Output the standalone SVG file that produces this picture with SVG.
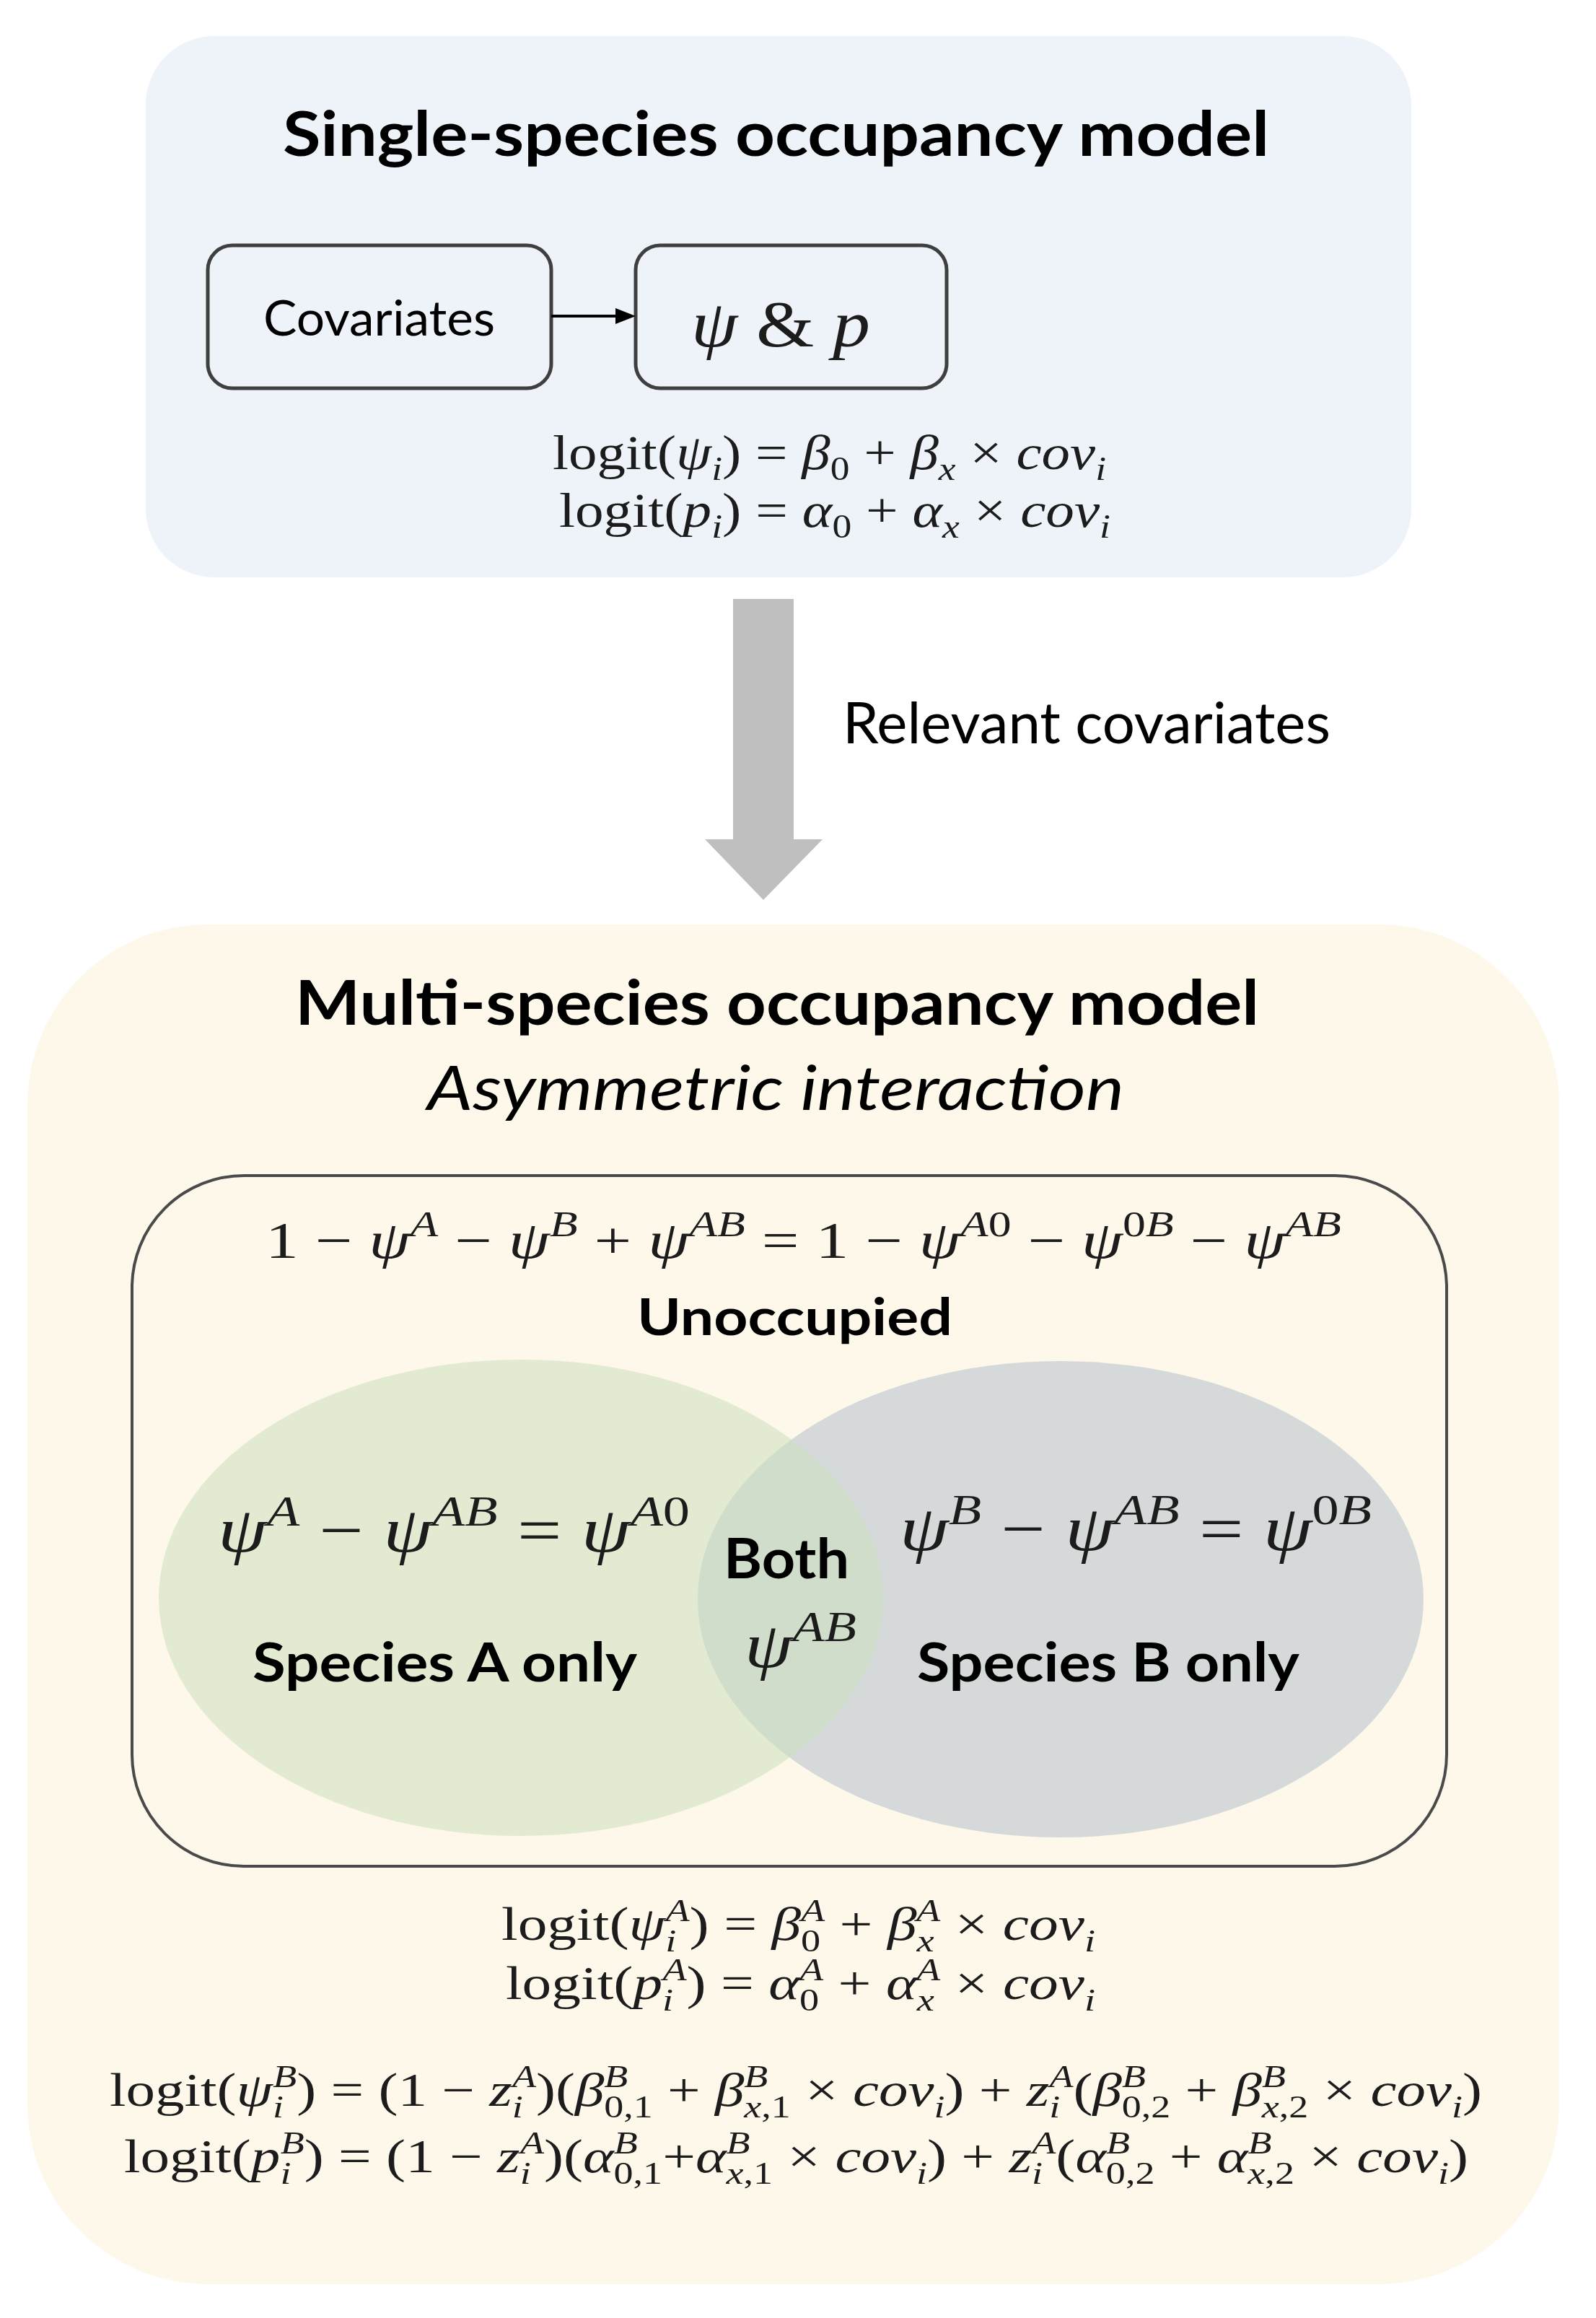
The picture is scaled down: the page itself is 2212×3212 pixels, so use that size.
<svg xmlns="http://www.w3.org/2000/svg" width="2212" height="3212" viewBox="0 0 2212 3212">
<style>
.sans{font-family:Lato,"Open Sans","Liberation Sans",sans-serif;fill:#000}
.b{font-weight:700}
.m{font-family:"Liberation Serif","DejaVu Serif",serif;fill:#1c1c1c}
.i{font-style:italic}
.box{fill:none;stroke:#3f3f3f;stroke-width:5}
</style>
<defs>
<marker id="ah" markerUnits="userSpaceOnUse" markerWidth="28" markerHeight="22" refX="17" refY="11" orient="auto"><path d="M0,0 L28,11 L0,22 z" fill="#000"/></marker>
</defs>
<rect width="2212" height="3212" fill="#fff"/>

<g id="single-species-panel">
<rect x="202" y="50" width="1754" height="750" rx="95" fill="#eef3f9"/>
<text class="sans b" x="392" y="216" font-size="86" textLength="1367" lengthAdjust="spacingAndGlyphs">Single-species occupancy model</text>
<text class="m" x="766" y="650" font-size="68" textLength="767" lengthAdjust="spacingAndGlyphs">logit(<tspan class="i">ψ</tspan><tspan class="i" font-size="46" dy="15">i</tspan><tspan dy="-15">) = </tspan><tspan class="i">β</tspan><tspan font-size="46" dy="15">0</tspan><tspan dy="-15"> + </tspan><tspan class="i">β</tspan><tspan class="i" font-size="46" dy="15">x</tspan><tspan dy="-15"> × </tspan><tspan class="i">cov</tspan><tspan class="i" font-size="46" dy="15">i</tspan></text>
<text class="m" x="775" y="730" font-size="68" textLength="764" lengthAdjust="spacingAndGlyphs">logit(<tspan class="i">p</tspan><tspan class="i" font-size="46" dy="15">i</tspan><tspan dy="-15">) = </tspan><tspan class="i">α</tspan><tspan font-size="46" dy="15">0</tspan><tspan dy="-15"> + </tspan><tspan class="i">α</tspan><tspan class="i" font-size="46" dy="15">x</tspan><tspan dy="-15"> × </tspan><tspan class="i">cov</tspan><tspan class="i" font-size="46" dy="15">i</tspan></text>
</g>

<g id="covariates-node">
<rect class="box" x="288" y="340" width="476" height="198" rx="34"/>
<text class="sans" x="365" y="465" font-size="67" textLength="321" lengthAdjust="spacingAndGlyphs">Covariates</text>
</g>

<g id="psi-p-node">
<rect class="box" x="881" y="340" width="431" height="198" rx="34"/>
<text class="m" x="958" y="480" font-size="92" textLength="248" lengthAdjust="spacingAndGlyphs"><tspan class="i">ψ</tspan> &amp; <tspan class="i">p</tspan></text>
</g>

<g id="multi-species-panel">
<rect x="38" y="1281" width="2123" height="1884" rx="250" fill="#fdf8e9"/>
<text class="sans b" x="409" y="1420" font-size="86" textLength="1336" lengthAdjust="spacingAndGlyphs">Multi-species occupancy model</text>
<text class="sans i" x="592" y="1538" font-size="85" textLength="966" lengthAdjust="spacingAndGlyphs">Asymmetric interaction</text>
<text class="m" x="695" y="2688" font-size="66" textLength="823" lengthAdjust="spacingAndGlyphs">logit(<tspan class="i">ψ</tspan><tspan class="i" font-size="44" dy="16">i</tspan><tspan class="i" font-size="44" dx="-12" dy="-42">A</tspan><tspan dy="26">) = </tspan><tspan class="i">β</tspan><tspan font-size="44" dy="16">0</tspan><tspan class="i" font-size="44" dx="-22" dy="-42">A</tspan><tspan dy="26"> + </tspan><tspan class="i">β</tspan><tspan class="i" font-size="44" dy="16">x</tspan><tspan class="i" font-size="44" dx="-20" dy="-42">A</tspan><tspan dy="26"> × </tspan><tspan class="i">cov</tspan><tspan class="i" font-size="44" dy="16">i</tspan></text>
<text class="m" x="701" y="2770" font-size="66" textLength="817" lengthAdjust="spacingAndGlyphs">logit(<tspan class="i">p</tspan><tspan class="i" font-size="44" dy="16">i</tspan><tspan class="i" font-size="44" dx="-12" dy="-42">A</tspan><tspan dy="26">) = </tspan><tspan class="i">α</tspan><tspan font-size="44" dy="16">0</tspan><tspan class="i" font-size="44" dx="-22" dy="-42">A</tspan><tspan dy="26"> + </tspan><tspan class="i">α</tspan><tspan class="i" font-size="44" dy="16">x</tspan><tspan class="i" font-size="44" dx="-20" dy="-42">A</tspan><tspan dy="26"> × </tspan><tspan class="i">cov</tspan><tspan class="i" font-size="44" dy="16">i</tspan></text>
<text class="m" x="152" y="2918" font-size="66" textLength="1902" lengthAdjust="spacingAndGlyphs">logit(<tspan class="i">ψ</tspan><tspan class="i" font-size="44" dy="16">i</tspan><tspan class="i" font-size="44" dx="-12" dy="-42">B</tspan><tspan dy="26">) = (1 − </tspan><tspan class="i">z</tspan><tspan class="i" font-size="44" dy="16">i</tspan><tspan class="i" font-size="44" dx="-12" dy="-42">A</tspan><tspan dy="26">)(</tspan><tspan class="i">β</tspan><tspan class="i" font-size="44" dy="-26">B</tspan><tspan font-size="44" dx="-27" dy="42">0,1</tspan><tspan dy="-16"> + </tspan><tspan class="i">β</tspan><tspan class="i" font-size="44" dy="-26">B</tspan><tspan font-size="44" dx="-27" dy="42"><tspan class="i">x</tspan>,1</tspan><tspan dy="-16"> × </tspan><tspan class="i">cov</tspan><tspan class="i" font-size="44" dy="16">i</tspan><tspan dy="-16">) + </tspan><tspan class="i">z</tspan><tspan class="i" font-size="44" dy="16">i</tspan><tspan class="i" font-size="44" dx="-12" dy="-42">A</tspan><tspan dy="26">(</tspan><tspan class="i">β</tspan><tspan class="i" font-size="44" dy="-26">B</tspan><tspan font-size="44" dx="-27" dy="42">0,2</tspan><tspan dy="-16"> + </tspan><tspan class="i">β</tspan><tspan class="i" font-size="44" dy="-26">B</tspan><tspan font-size="44" dx="-27" dy="42"><tspan class="i">x</tspan>,2</tspan><tspan dy="-16"> × </tspan><tspan class="i">cov</tspan><tspan class="i" font-size="44" dy="16">i</tspan><tspan dy="-16">)</tspan></text>
<text class="m" x="172" y="3010" font-size="66" textLength="1863" lengthAdjust="spacingAndGlyphs">logit(<tspan class="i">p</tspan><tspan class="i" font-size="44" dy="16">i</tspan><tspan class="i" font-size="44" dx="-12" dy="-42">B</tspan><tspan dy="26">) = (1 − </tspan><tspan class="i">z</tspan><tspan class="i" font-size="44" dy="16">i</tspan><tspan class="i" font-size="44" dx="-12" dy="-42">A</tspan><tspan dy="26">)(</tspan><tspan class="i">α</tspan><tspan class="i" font-size="44" dy="-26">B</tspan><tspan font-size="44" dx="-27" dy="42">0,1</tspan><tspan dy="-16">+</tspan><tspan class="i">α</tspan><tspan class="i" font-size="44" dy="-26">B</tspan><tspan font-size="44" dx="-27" dy="42"><tspan class="i">x</tspan>,1</tspan><tspan dy="-16"> × </tspan><tspan class="i">cov</tspan><tspan class="i" font-size="44" dy="16">i</tspan><tspan dy="-16">) + </tspan><tspan class="i">z</tspan><tspan class="i" font-size="44" dy="16">i</tspan><tspan class="i" font-size="44" dx="-12" dy="-42">A</tspan><tspan dy="26">(</tspan><tspan class="i">α</tspan><tspan class="i" font-size="44" dy="-26">B</tspan><tspan font-size="44" dx="-27" dy="42">0,2</tspan><tspan dy="-16"> + </tspan><tspan class="i">α</tspan><tspan class="i" font-size="44" dy="-26">B</tspan><tspan font-size="44" dx="-27" dy="42"><tspan class="i">x</tspan>,2</tspan><tspan dy="-16"> × </tspan><tspan class="i">cov</tspan><tspan class="i" font-size="44" dy="16">i</tspan><tspan dy="-16">)</tspan></text>
</g>

<g id="unoccupied-node">
<rect x="183" y="1629" width="1822" height="957" rx="155" fill="none" stroke="#4a4a4a" stroke-width="4"/>
<text class="m" x="368" y="1743" font-size="72" textLength="1491" lengthAdjust="spacingAndGlyphs">1 − <tspan class="i">ψ</tspan><tspan class="i" font-size="50" dy="-30">A</tspan><tspan dy="30"> − </tspan><tspan class="i">ψ</tspan><tspan class="i" font-size="50" dy="-30">B</tspan><tspan dy="30"> + </tspan><tspan class="i">ψ</tspan><tspan class="i" font-size="50" dy="-30">AB</tspan><tspan dy="30"> = 1 − </tspan><tspan class="i">ψ</tspan><tspan font-size="50" dy="-30"><tspan class="i">A</tspan>0</tspan><tspan dy="30"> − </tspan><tspan class="i">ψ</tspan><tspan font-size="50" dy="-30">0<tspan class="i">B</tspan></tspan><tspan dy="30"> − </tspan><tspan class="i">ψ</tspan><tspan class="i" font-size="50" dy="-30">AB</tspan></text>
<text class="sans b" x="883" y="1850" font-size="71" textLength="437" lengthAdjust="spacingAndGlyphs">Unoccupied</text>
</g>

<g id="species-b-node">
<ellipse cx="1470" cy="2216" rx="503" ry="330" fill="#d6d9da"/>
</g>
<g id="species-a-node">
<ellipse cx="722" cy="2214" rx="502" ry="330" fill="#cce0c0" fill-opacity="0.55"/>
<text class="m" x="302" y="2150" font-size="88" textLength="654" lengthAdjust="spacingAndGlyphs"><tspan class="i">ψ</tspan><tspan class="i" font-size="60" dy="-36">A</tspan><tspan dy="36"> − </tspan><tspan class="i">ψ</tspan><tspan class="i" font-size="60" dy="-36">AB</tspan><tspan dy="36"> = </tspan><tspan class="i">ψ</tspan><tspan font-size="60" dy="-36"><tspan class="i">A</tspan>0</tspan></text>
<text class="sans b" x="350" y="2330" font-size="75" textLength="533" lengthAdjust="spacingAndGlyphs">Species A only</text>
</g>
<g id="species-b-labels">
<text class="m" x="1247" y="2148" font-size="88" textLength="654" lengthAdjust="spacingAndGlyphs"><tspan class="i">ψ</tspan><tspan class="i" font-size="60" dy="-36">B</tspan><tspan dy="36"> − </tspan><tspan class="i">ψ</tspan><tspan class="i" font-size="60" dy="-36">AB</tspan><tspan dy="36"> = </tspan><tspan class="i">ψ</tspan><tspan font-size="60" dy="-36">0<tspan class="i">B</tspan></tspan></text>
<text class="sans b" x="1271" y="2330" font-size="75" textLength="530" lengthAdjust="spacingAndGlyphs">Species B only</text>
</g>
<g id="both-node">
<text class="sans b" x="1003" y="2187" font-size="76" textLength="174" lengthAdjust="spacingAndGlyphs">Both</text>
<text class="m" x="1032" y="2310" font-size="88" textLength="155" lengthAdjust="spacingAndGlyphs"><tspan class="i">ψ</tspan><tspan class="i" font-size="60" dy="-36">AB</tspan></text>
</g>

<g id="connectors">
<line x1="764" y1="438" x2="870" y2="438" stroke="#000" stroke-width="4" marker-end="url(#ah)"/>
<polygon points="1016,830 1100,830 1100,1163 1140,1163 1058,1247 977,1163 1016,1163" fill="#bfbfbf"/>
<text class="sans" x="1168" y="1030" font-size="79" textLength="676" lengthAdjust="spacingAndGlyphs">Relevant covariates</text>
</g>
</svg>
